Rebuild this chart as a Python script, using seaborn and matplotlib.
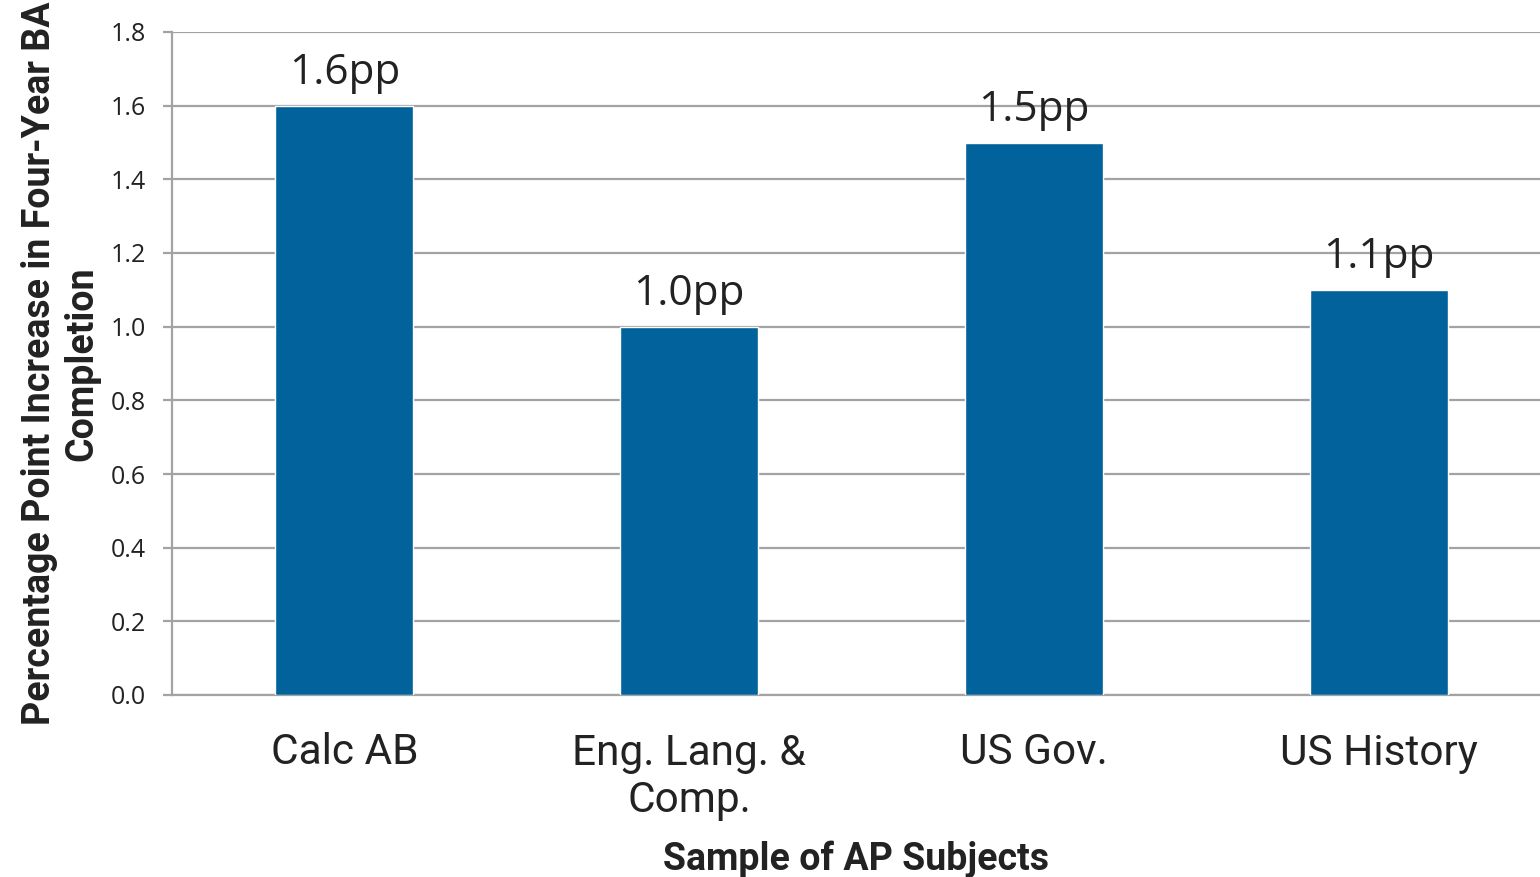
import pandas as pd
import seaborn as sns
import matplotlib.pyplot as plt

# données
subjects = ["Calc AB", "Eng. Lang. &\nComp.", "US Gov.", "US History"]
increase_pp = [1.6, 1.0, 1.5, 1.1]
bar_labels = ["1.6pp", "1.0pp", "1.5pp", "1.1pp"]
y_ticks = [0.0, 0.2, 0.4, 0.6, 0.8, 1.0, 1.2, 1.4, 1.6, 1.8]

df = pd.DataFrame({"subject": subjects, "increase": increase_pp})

sns.set_style("white")
grey = "#a3a3a3"
bar_color = "#02629b"

fig = plt.figure(figsize=(15.4, 8.77), dpi=100)
ax = fig.add_axes([172 / 1540, 1 - 695 / 877, 1 - 172 / 1540, (695 - 32) / 877])

sns.barplot(data=df, x="subject", y="increase", color=bar_color, width=0.4,
            saturation=1, ax=ax, zorder=3)

ax.bar_label(ax.containers[0], labels=bar_labels, padding=8.5,
             fontsize=30.5, family="Open Sans", color="#222222")

ax.set_xlim(-0.5, 3.467)
ax.set_ylim(0, 1.8)
ax.set_yticks(y_ticks)
ax.set_yticklabels([f"{t:.1f}" for t in y_ticks], family="Open Sans", fontsize=18, color="#222222")
ax.set_xticks(range(len(subjects)))
ax.set_xticklabels(subjects, family="Roboto", fontsize=30.5, color="#222222", linespacing=1.2)

ax.yaxis.grid(True, color=grey, linewidth=1.6, zorder=0)
ax.set_axisbelow(True)
ax.tick_params(axis="y", length=6.5, width=1.6, color=grey, pad=12, left=True)
ax.tick_params(axis="x", length=0, pad=27)

for side in ["top", "right"]:
    ax.spines[side].set_visible(False)
for side in ["left", "bottom"]:
    ax.spines[side].set_color(grey)
    ax.spines[side].set_linewidth(1.6)

ax.set_xlabel("Sample of AP Subjects", family="Roboto", fontweight="bold", fontsize=27, color="#222222")
ax.xaxis.set_label_coords(0.5, -0.219)
ax.set_ylabel("Percentage Point Increase in Four-Year BA\nCompletion", family="Roboto",
              fontweight="bold", fontsize=27, color="#222222", linespacing=1.2)
ax.yaxis.set_label_coords(-0.052, 0.5)

fig.savefig("out.png", dpi=100)
